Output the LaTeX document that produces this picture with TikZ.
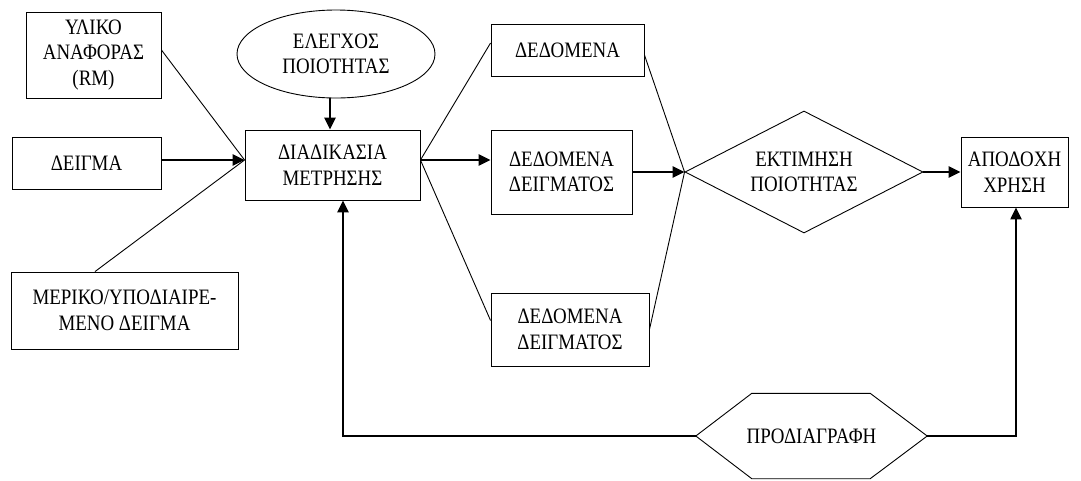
\documentclass[tikz,border=0pt]{standalone}
\usepackage{fontspec}
\setmainfont[FakeStretch=0.86]{Liberation Serif}
\usetikzlibrary{shapes.geometric,arrows.meta,positioning}

\tikzstyle{block} = [draw, rectangle, line width=0.9pt, align=center, inner sep=2pt, font=\fontsize{22}{25.5}\selectfont]
\tikzstyle{input-block} = [block]
\tikzstyle{data-block} = [block]
\tikzstyle{check-block} = [block, ellipse]
\tikzstyle{decision-block} = [block, diamond, aspect=1.95, inner sep=0pt]
\tikzstyle{spec-block} = [rectangle, align=center, font=\fontsize{22}{25.5}\selectfont]
\tikzstyle{link} = [line width=0.9pt]
\tikzstyle{flow} = [line width=2.4pt, -{Triangle[length=12pt,width=11pt]}]

\begin{document}
\begin{tikzpicture}[x=1pt, y=-1pt]

	\useasboundingbox (0,0) rectangle (1081,480);

	% inputs
	\node [input-block, minimum width=135pt, minimum height=86pt] (RM) at (93.5,55) {ΥΛΙΚΟ\\ΑΝΑΦΟΡΑΣ\\(RM)};
	\node [input-block, minimum width=149pt, minimum height=52pt] (Sample) at (86.5,163) {ΔΕΙΓΜΑ};
	\node [input-block, minimum width=227pt, minimum height=77pt] (SubSample) at (124.5,310.5) {ΜΕΡΙΚΟ/ΥΠΟΔΙΑΙΡΕ-\\ΜΕΝΟ ΔΕΙΓΜΑ};
	\node [check-block, minimum width=198pt, minimum height=88pt] (QC) at (336,54) {ΕΛΕΓΧΟΣ\\ΠΟΙΟΤΗΤΑΣ};

	% main chain
	\node [block, minimum width=175pt, minimum height=70pt] (Proc) at (332.5,165) {ΔΙΑΔΙΚΑΣΙΑ\\ΜΕΤΡΗΣΗΣ};
	\node [data-block, minimum width=141pt, minimum height=84pt, right of=Proc, node distance=229pt, yshift=-7pt] (SData) {ΔΕΔΟΜΕΝΑ\\ΔΕΙΓΜΑΤΟΣ};
	\node [decision-block, minimum width=238pt, minimum height=122pt, right of=SData, node distance=242.5pt] (Est) {ΕΚΤΙΜΗΣΗ\\ΠΟΙΟΤΗΤΑΣ};
	\node [block, minimum width=107pt, minimum height=70pt, right of=Est, node distance=210.5pt] (Use) {ΑΠΟΔΟΧΗ\\ΧΡΗΣΗ};

	% other data
	\node [data-block, minimum width=153pt, minimum height=52pt] (Data) at (567.5,50) {ΔΕΔΟΜΕΝΑ};
	\node [data-block, minimum width=158pt, minimum height=73pt] (SData2) at (570,329.5) {ΔΕΔΟΜΕΝΑ\\ΔΕΙΓΜΑΤΟΣ};

	% specification
	\node [spec-block, minimum width=231pt, minimum height=85pt] (Spec) at (811.5,436) {ΠΡΟΔΙΑΓΡΑΦΗ};
	\draw [link] (Spec.west) -- ([xshift=56pt]Spec.north west) -- ([xshift=-57pt]Spec.north east) -- (Spec.east)
		-- ([xshift=-57pt]Spec.south east) -- ([xshift=56pt]Spec.south west) -- cycle;

	\coordinate (InJ) at ([yshift=5pt]Proc.west);
	\coordinate (OutJ) at ([yshift=5pt]Proc.east);

	\draw [link] ([yshift=5pt]RM.east) -- (InJ);
	\draw [link] ([xshift=-29.5pt]SubSample.north) -- (InJ);
	\draw [flow] ([yshift=3pt]Sample.east) -- (InJ);
	\draw [flow] ([xshift=-6pt]QC.south) -- ([xshift=-2.5pt]Proc.north);

	\draw [link] (OutJ) -- ([yshift=7pt]Data.west);
	\draw [link] (OutJ) -- ([yshift=9pt]SData2.west);
	\draw [flow] (OutJ) -- ([yshift=12pt]SData.west);

	\draw [link] ([yshift=-5pt]Data.east) -- (Est.west);
	\draw [link] (SData2.east) -- (Est.west);
	\draw [flow] (SData.east) -- (Est.west);

	\draw [flow] (Est.east) -- (Use.west);

	\draw [flow] (Spec.west) -| ([xshift=10.5pt]Proc.south);
	\draw [flow] (Spec.east) -| ([xshift=1.5pt]Use.south);

\end{tikzpicture}
\end{document}
